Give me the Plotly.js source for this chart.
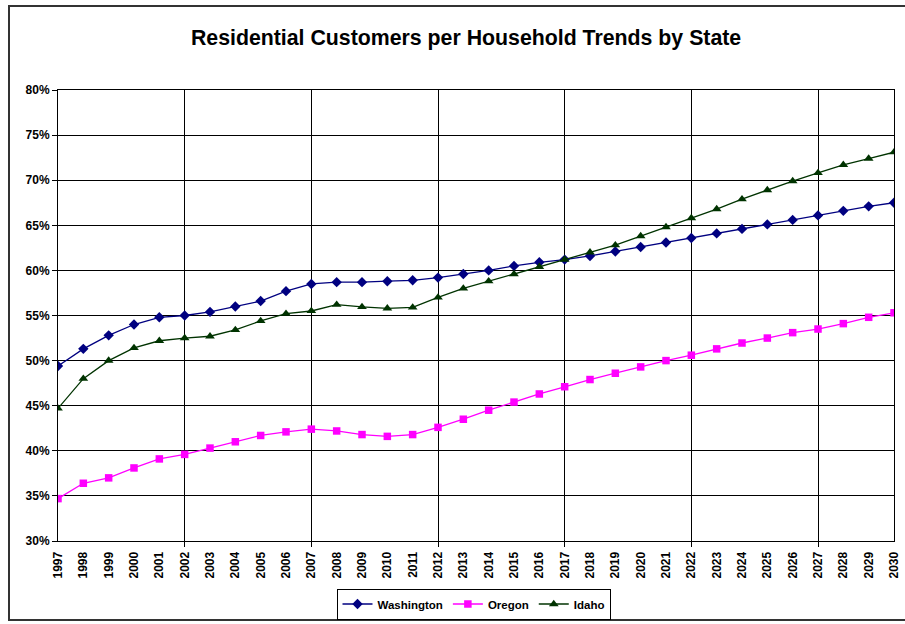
<!DOCTYPE html>
<html>
<head>
<meta charset="utf-8">
<script src="https://cdn.plot.ly/plotly-3.0.1.min.js"></script>
<style>html,body{margin:0;padding:0;background:#fff;}#chart{width:905px;height:624px;}</style>
</head>
<body>
<div id="chart"></div>
<script>
const years = [1997,1998,1999,2000,2001,2002,2003,2004,2005,2006,2007,2008,2009,2010,2011,2012,2013,2014,2015,2016,2017,2018,2019,2020,2021,2022,2023,2024,2025,2026,2027,2028,2029,2030];
const washington = [49.4,51.3,52.8,54.0,54.8,55.0,55.4,56.0,56.6,57.7,58.5,58.7,58.7,58.8,58.9,59.2,59.6,60.0,60.5,60.9,61.2,61.6,62.1,62.6,63.1,63.6,64.1,64.6,65.1,65.6,66.1,66.6,67.1,67.5];
const oregon = [34.7,36.4,37.0,38.1,39.1,39.6,40.3,41.0,41.7,42.1,42.4,42.2,41.8,41.6,41.8,42.6,43.5,44.5,45.4,46.3,47.1,47.9,48.6,49.3,50.0,50.6,51.3,51.95,52.5,53.1,53.5,54.1,54.8,55.3];
const idaho = [44.7,48.0,50.0,51.4,52.2,52.5,52.7,53.4,54.4,55.2,55.5,56.2,55.95,55.8,55.9,57.0,58.0,58.8,59.6,60.4,61.2,62.0,62.8,63.8,64.8,65.8,66.8,67.9,68.9,69.9,70.8,71.7,72.4,73.1];
const yTicks = [0.30,0.35,0.40,0.45,0.50,0.55,0.60,0.65,0.70,0.75,0.80];
const gridYears = [2002,2007,2012,2017,2022,2027];

const pct = a => a.map(v => v/100);
const font = "Arial, 'Liberation Sans', sans-serif";

const traces = [
  {x: years, y: pct(washington), name: 'Washington', mode: 'lines+markers',
   line: {color: '#000080', width: 1.3}, marker: {symbol: 'diamond', size: 8, color: '#000080'}},
  {x: years, y: pct(oregon), name: 'Oregon', mode: 'lines+markers',
   line: {color: '#FF00FF', width: 1.3}, marker: {symbol: 'square', size: 7.5, color: '#FF00FF'}},
  {x: years, y: pct(idaho), name: 'Idaho', mode: 'lines+markers',
   line: {color: '#003300', width: 1.3}, marker: {symbol: 'triangle-up', size: 8.5, color: '#003300'}}
];

const layout = {
  width: 905, height: 624,
  margin: {l: 58, r: 11, t: 90, b: 83, autoexpand: false},
  paper_bgcolor: '#fff', plot_bgcolor: '#fff',
  font: {family: font, color: '#000'},
  title: {text: '<b>Residential Customers per Household Trends by State</b>',
          font: {family: font, size: 21.3, color: '#000'},
          x: 0.515, xref: 'container', xanchor: 'center',
          y: 1 - 38/624, yref: 'container', yanchor: 'middle'},
  xaxis: {range: [1997, 2030], tickmode: 'array', tickvals: years, ticktext: years.map(String),
          tickangle: -90, showgrid: false, zeroline: false,
          ticks: 'outside', ticklen: 5, tickcolor: 'rgba(0,0,0,0)',
          showline: true, linecolor: '#000', linewidth: 1, mirror: true,
          tickfont: {family: font, size: 12, color: '#000', weight: 'bold'}},
  xaxis2: {range: [1997, 2030], overlaying: 'x', side: 'bottom', tickmode: 'array', tickvals: gridYears,
           showticklabels: false, showgrid: true, gridcolor: '#000', gridwidth: 1,
           ticks: 'outside', ticklen: 5, tickcolor: '#000', zeroline: false, showline: false},
  yaxis: {range: [0.30, 0.80], tickmode: 'array', tickvals: yTicks, tickformat: '.0%',
          showgrid: true, gridcolor: '#000', gridwidth: 1, zeroline: false,
          ticks: 'outside', ticklen: 5, tickcolor: '#000',
          showline: true, linecolor: '#000', linewidth: 1, mirror: true,
          tickfont: {family: font, size: 12, color: '#000', weight: 'bold'}},
  showlegend: true,
  legend: {orientation: 'h', x: 473.5/905, xref: 'container', xanchor: 'center',
           y: 1 - 604/624, yref: 'container', yanchor: 'middle',
           bordercolor: '#000', borderwidth: 1, bgcolor: '#fff',
           font: {family: font, size: 11.5, color: '#000', weight: 'bold'},
           itemwidth: 30, tracegroupgap: 0},
  shapes: [{type: 'rect', xref: 'paper', yref: 'paper',
            x0: (9-58)/836, x1: (912-58)/836, y0: (541-620)/451, y1: (541-6)/451,
            line: {color: '#333', width: 2}, fillcolor: 'rgba(0,0,0,0)', layer: 'below'}]
};

Plotly.newPlot('chart', traces.concat([{x: [2002], y: [null], xaxis: 'x2', showlegend: false, hoverinfo: 'skip'}]), layout, {staticPlot: true, displayModeBar: false});
</script>
</body>
</html>
